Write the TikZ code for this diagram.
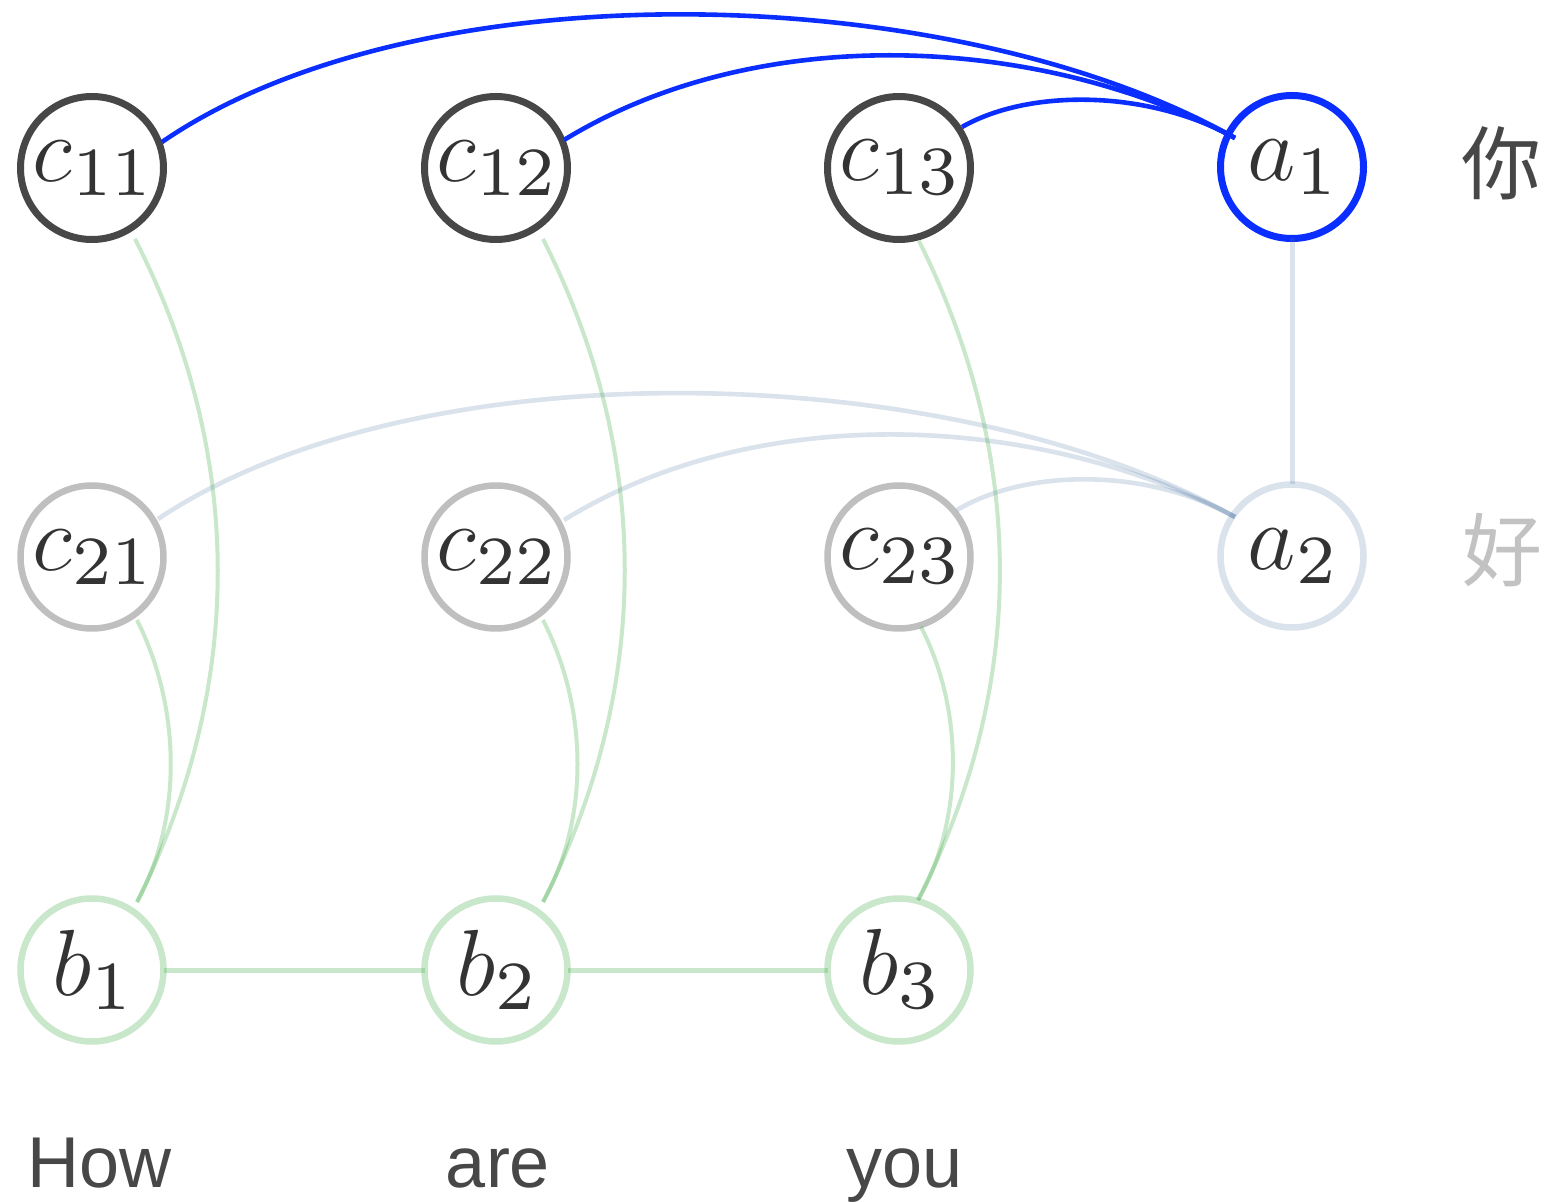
\RequirePackage{fix-cm}
\documentclass[tikz,border=0pt]{standalone}
\usepackage{fontspec}
\newfontfamily\labfont{Liberation Sans}
\newfontfamily\cjkfont{Noto Sans CJK SC}
\newfontfamily\sevenfont{lmroman7-regular.otf}
\usetikzlibrary{calc}
\newcommand\sbx[1]{\mbox{\sevenfont\fontsize{34.5}{40}\selectfont #1}}
\definecolor{darkc}{HTML}{474747}
\definecolor{lightc}{HTML}{BFBFBF}
\definecolor{bluec}{HTML}{0A2EFF}
\definecolor{bgray}{HTML}{466EA0}
\definecolor{gr}{HTML}{4CAF50}
\definecolor{txt}{HTML}{333333}
\definecolor{wordc}{HTML}{474747}
\definecolor{faintc}{HTML}{C2C2C2}
\begin{document}
\begin{tikzpicture}[x=0.5pt,y=-0.5pt,
  nd/.style={circle,inner sep=0pt,outer sep=0pt,minimum size=71.5pt,line width=3.5pt,text=txt,font=\fontsize{47}{56}\selectfont},
  dk/.style={nd,draw=darkc},
  lt/.style={nd,draw=lightc,line width=3.25pt},
  bl/.style={nd,draw=bluec},
  ag/.style={nd,draw=bgray,draw opacity=0.2,line width=3.25pt},
  gn/.style={nd,draw=gr,draw opacity=0.3,line width=3.25pt},
  blueedge/.style={draw=bluec,line width=2.3pt},
  grayedge/.style={draw=bgray,draw opacity=0.2,line width=2.3pt},
  greenedge/.style={draw=gr,draw opacity=0.3,line width=2pt},
  word/.style={anchor=base,inner sep=0pt,text=wordc,font=\labfont\fontsize{36}{43}\selectfont},
  zh/.style={inner sep=0pt,font=\cjkfont\fontsize{40}{48}\selectfont}
]
\useasboundingbox (0,0) rectangle (1548,1202);

% nodes
\node[dk] (c11) at (92,168) {$c_{\sbx{11}}$};
\node[dk] (c12) at (496,168) {$c_{\sbx{12}}$};
\node[dk] (c13) at (899,168) {$c_{\sbx{13}}$};
\node[bl] (a1) at (1292,167) {$a_{\sbx{1}}$};
\node[lt] (c21) at (92,557) {$c_{\sbx{21}}$};
\node[lt] (c22) at (496,557) {$c_{\sbx{22}}$};
\node[lt] (c23) at (899,557) {$c_{\sbx{23}}$};
\node[ag] (a2) at (1292,556) {$a_{\sbx{2}}$};
\node[gn] (b1) at (92,970) {$b_{\sbx{1}}$};
\node[gn] (b2) at (496,970) {$b_{\sbx{2}}$};
\node[gn] (b3) at (899,970) {$b_{\sbx{3}}$};

\node[zh,text=wordc] (z1) at (1501,163) {你};
\node[zh,text=faintc] (z2) at (1502,550) {好};
\node[word] (w1) at (100,1187) {How};
\node[word] (w2) at (498,1187) {are};
\node[word] (w3) at (905,1187) {you};

% blue attention edges to a1
\draw[blueedge] ($(c11)+(70,-26)$) .. controls (420,-35) and (955,-20) .. ($(a1)+(-57,-29)$);
\draw[blueedge] ($(c12)+(68,-28)$) .. controls (760,20) and (1040,35) .. ($(a1)+(-57,-29)$);
\draw[blueedge] ($(c13)+(63,-41)$) .. controls (1030,88) and (1150,90) .. ($(a1)+(-57,-29)$);

% faint edges to a2
\draw[grayedge] ($(c21)+(66,-38)$) .. controls (420,344) and (955,359) .. ($(a2)+(-57,-39)$);
\draw[grayedge] ($(c22)+(68,-37)$) .. controls (760,399) and (1040,414) .. ($(a2)+(-57,-39)$);
\draw[grayedge] ($(c23)+(58,-47)$) .. controls (1030,467) and (1150,469) .. ($(a2)+(-57,-39)$);
\draw[grayedge,line width=2.5pt] (a1.south) -- (a2.north);

% green edges
\draw[greenedge] ($(c11)+(43,71)$) .. controls (245,454) and (245,686) .. ($(b1)+(45,-68)$);
\draw[greenedge] ($(c21)+(45,63)$) .. controls (182,710) and (182,820) .. ($(b1)+(45,-68)$);
\draw[greenedge] ($(c12)+(47,71)$) .. controls (652,454) and (652,686) .. ($(b2)+(47,-68)$);
\draw[greenedge] ($(c22)+(47,63)$) .. controls (589,710) and (589,820) .. ($(b2)+(47,-68)$);
\draw[greenedge] ($(c13)+(20,73)$) .. controls (1027,458) and (1027,686) .. ($(b3)+(19,-70)$);
\draw[greenedge] ($(c23)+(22,70)$) .. controls (964,710) and (964,820) .. ($(b3)+(19,-70)$);
\draw[greenedge,line width=2.5pt] (b1.east) -- (b2.west);
\draw[greenedge,line width=2.5pt] (b2.east) -- (b3.west);
\end{tikzpicture}
\end{document}
